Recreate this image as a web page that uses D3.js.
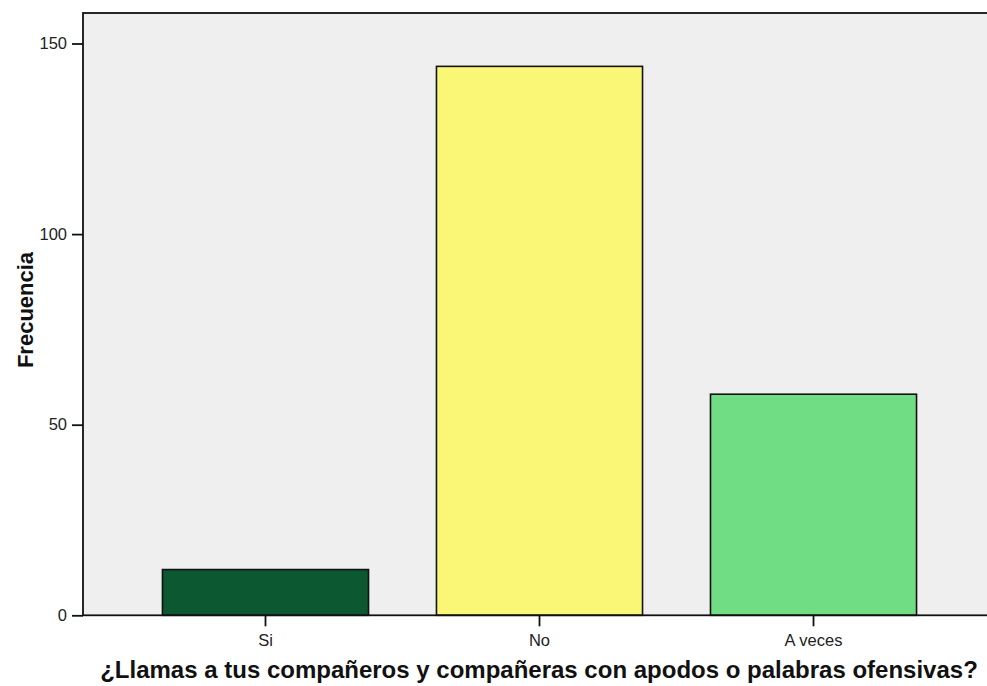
<!DOCTYPE html>
<html><head><meta charset="utf-8">
<script src="https://cdn.jsdelivr.net/npm/d3@7/dist/d3.min.js"></script>
<style>body{margin:0;background:#fff}svg{display:block}</style>
</head><body>
<svg id="c" width="987" height="686"></svg>
<script>
const categories = ["Si", "No", "A veces"];
const values = [12, 144, 58];
const colors = ["#0c5830", "#faf776", "#70dd85"];
const yTicks = [0, 50, 100, 150];
const yMax = 158;
const xTitle = "¿Llamas a tus compañeros y compañeras con apodos o palabras ofensivas?";
const yTitle = "Frecuencia";

const svg = d3.select("#c");
const L = 83, R = 996, T = 13, B = 615.3;
const font = "'Liberation Sans', Arial, sans-serif";

const x = d3.scaleBand().domain(categories).range([L, R]).paddingInner(0.248).paddingOuter(0.29);
const y = d3.scaleLinear().domain([0, yMax]).range([B, T]);

svg.append("rect").attr("x", L).attr("y", T).attr("width", R - L).attr("height", B - T)
  .attr("fill", "#efefef");

svg.selectAll("rect.bar").data(values).enter().append("rect").attr("class", "bar")
  .attr("x", (d, i) => x(categories[i]))
  .attr("y", d => y(d))
  .attr("width", x.bandwidth())
  .attr("height", d => B - y(d))
  .attr("fill", (d, i) => colors[i])
  .attr("stroke", "#111").attr("stroke-width", 1.6);

// frame
svg.append("rect").attr("x", L).attr("y", T).attr("width", R - L).attr("height", B - T)
  .attr("fill", "none").attr("stroke", "#111").attr("stroke-width", 1.8);

const yAxis = svg.append("g").attr("transform", `translate(${L},0)`)
  .call(d3.axisLeft(y).tickValues(yTicks).tickSize(11).tickPadding(5));
yAxis.select(".domain").remove();
yAxis.selectAll("line").attr("stroke", "#111").attr("stroke-width", 1.8);
yAxis.selectAll("text").attr("font-family", font).attr("font-size", "16.5px").attr("fill", "#222");

const xAxis = svg.append("g").attr("transform", `translate(0,${B})`)
  .call(d3.axisBottom(x).tickSize(11).tickPadding(7.5));
xAxis.select(".domain").remove();
xAxis.selectAll("line").attr("stroke", "#111").attr("stroke-width", 1.8);
xAxis.selectAll("text").attr("font-family", font).attr("font-size", "16.5px").attr("fill", "#222");

svg.append("text").attr("x", (98 + 980) / 2).attr("y", 678)
  .attr("text-anchor", "middle").attr("font-family", font).attr("font-weight", "bold")
  .attr("font-size", "24px").attr("fill", "#111").text(xTitle);

svg.append("text").attr("transform", "translate(33,310) rotate(-90)")
  .attr("text-anchor", "middle").attr("font-family", font).attr("font-weight", "bold")
  .attr("font-size", "22px").attr("fill", "#111").text(yTitle);
</script>
</body></html>
